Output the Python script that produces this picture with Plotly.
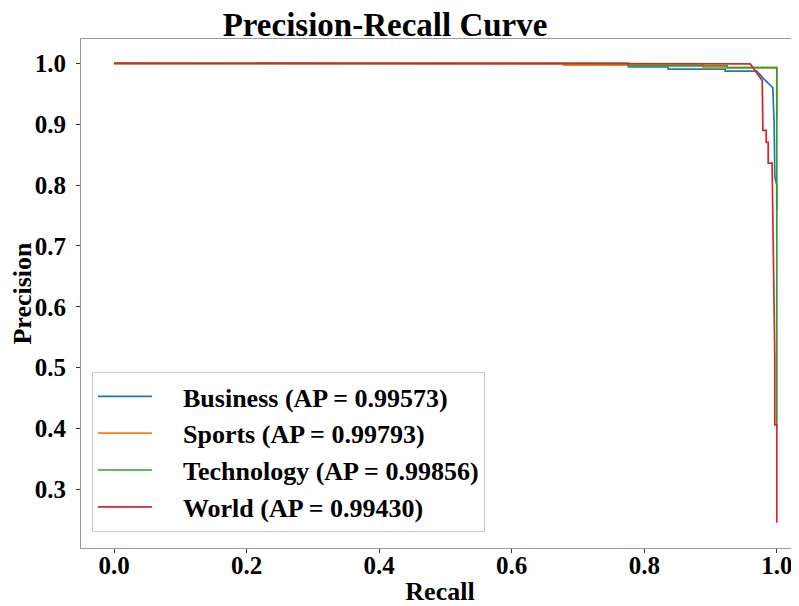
import plotly.graph_objects as go

# ---- data ----
labels = ["Business (AP = 0.99573)", "Sports (AP = 0.99793)",
          "Technology (AP = 0.99856)", "World (AP = 0.99430)"]
colors = ["#1f77b4", "#ff7f0e", "#2ca02c", "#d62728"]

business_recall = [0.0, 0.776, 0.776, 0.836, 0.836, 0.922, 0.922, 0.970, 0.980, 0.990,
                   0.994, 0.996, 0.997, 0.997, 1.0, 1.0]
business_precision = [1.0, 1.0, 0.994, 0.994, 0.9906, 0.9906, 0.9873, 0.9873, 0.975, 0.964,
                      0.960, 0.90, 0.813, 0.813, 0.80, 0.759]

sports_recall = [0.0, 0.678, 0.678, 0.889, 0.889, 0.999, 1.0, 1.0]
sports_precision = [1.0, 1.0, 0.9972, 0.9972, 0.9928, 0.9928, 0.9928, 0.912]

tech_recall = [0.0, 0.776, 0.776, 0.925, 0.925, 0.999, 1.0, 1.0]
tech_precision = [1.0, 1.0, 0.996, 0.996, 0.9928, 0.9928, 0.9928, 0.402]

world_recall = [0.0, 0.930, 0.930, 0.960, 0.966, 0.972, 0.978, 0.979, 0.984, 0.984,
                0.987, 0.987, 0.993, 0.993, 0.997, 0.997, 1.0, 1.0]
world_precision = [1.0, 1.0, 0.999, 0.999, 0.990, 0.980, 0.972, 0.890, 0.890, 0.870,
                   0.870, 0.836, 0.836, 0.828, 0.515, 0.406, 0.406, 0.245]

recalls = [business_recall, sports_recall, tech_recall, world_recall]
precisions = [business_precision, sports_precision, tech_precision, world_precision]

x_ticks = [0.0, 0.2, 0.4, 0.6, 0.8, 1.0]
y_ticks = [0.3, 0.4, 0.5, 0.6, 0.7, 0.8, 0.9, 1.0]

FONT = "Liberation Serif, Times New Roman, serif"

# page body has an 8px margin, so the figure is drawn at (8, 8)
W, H = 791, 598

fig = go.Figure()
for i in range(4):
    fig.add_trace(go.Scatter(
        x=recalls[i], y=precisions[i], mode="lines",
        name="\u00a0\u00a0\u00a0\u00a0<b>" + labels[i] + "</b>",
        line=dict(color=colors[i], width=1.7), legendgroup=str(i)))

fig.update_layout(
    width=W, height=H,
    margin=dict(l=73, r=0, t=31, b=58, autoexpand=False),
    paper_bgcolor="white", plot_bgcolor="white",
    font=dict(family=FONT, color="black"),
    title=dict(text="<b>Precision-Recall Curve</b>", x=377/W, xanchor="center",
               y=1 - 16/H, yanchor="middle", xref="container", yref="container",
               font=dict(size=33, family=FONT, color="black")),
    showlegend=True,
    legend=dict(x=(92 - 81) / 718, y=(548 - 532) / 509, xanchor="left", yanchor="bottom",
                bgcolor="rgba(255,255,255,0.8)", bordercolor="#cccccc", borderwidth=1,
                font=dict(size=26, family=FONT, color="black"),
                tracegroupgap=0, itemwidth=54),
)

fig.update_xaxes(
    range=[-0.05, 1.0335], tickvals=x_ticks, ticktext=[f"<b>{v:.1f}</b>" for v in x_ticks],
    showline=True, linecolor="#999999", linewidth=1, mirror=True, automargin=False,
    ticks="outside", ticklen=4, tickcolor="#333333", showgrid=False, zeroline=False,
    ticklabelstandoff=-9,
    tickfont=dict(size=25, family=FONT, color="black"),
    title=dict(text="<b>Recall</b>", font=dict(size=26, family=FONT, color="black"), standoff=13),
)
fig.update_yaxes(
    range=[0.2036, 1.040], tickvals=y_ticks, ticktext=[f"<b>{v:.1f}</b>" for v in y_ticks],
    showline=True, linecolor="#999999", linewidth=1, mirror=False, automargin=False,
    ticks="outside", ticklen=4, tickcolor="#333333", showgrid=False, zeroline=False,
    ticklabelstandoff=5,
    tickfont=dict(size=25, family=FONT, color="black"),
    title=dict(text="<b>Precision</b>", font=dict(size=26, family=FONT, color="black"), standoff=4),
)

fig.write_html("out.html")
